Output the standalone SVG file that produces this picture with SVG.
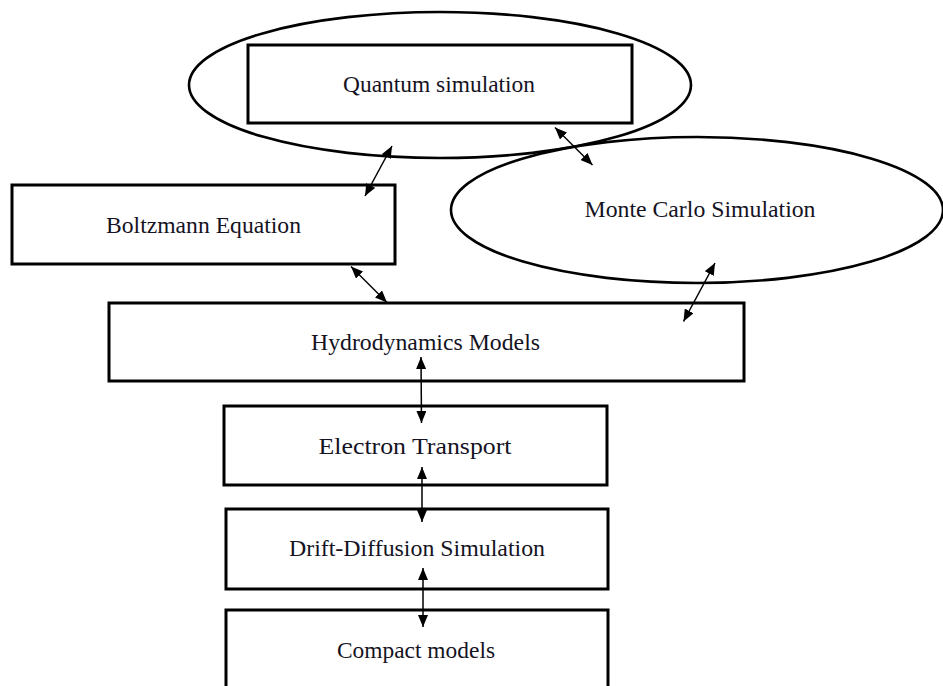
<svg xmlns="http://www.w3.org/2000/svg" width="943" height="686" viewBox="0 0 943 686">
  <style>
    .box { fill: none; stroke: #000; stroke-width: 3; }
    .oval { fill: none; stroke: #000; stroke-width: 2.6; }
    .lbl { font-family: "Liberation Serif", "Times New Roman", serif; font-size: 23.5px; fill: #15131f; text-anchor: middle; }
    .link { stroke: #000; stroke-width: 1.5; fill: none; marker-start: url(#head); marker-end: url(#head); }
  </style>
  <defs>
    <marker id="head" markerUnits="userSpaceOnUse" markerWidth="12" markerHeight="10" refX="12" refY="5" orient="auto-start-reverse">
      <path d="M0,0 L12,5 L0,10 z" fill="#000"/>
    </marker>
  </defs>
  <rect width="943" height="686" fill="#fff"/>

  <g id="quantum">
    <ellipse class="oval" cx="440" cy="85" rx="251" ry="73"/>
    <rect class="box" x="248" y="45" width="384" height="78"/>
    <text class="lbl" x="439" y="92" textLength="192" lengthAdjust="spacingAndGlyphs">Quantum simulation</text>
  </g>

  <g id="monte-carlo">
    <ellipse class="oval" cx="697" cy="210" rx="246" ry="73"/>
    <text class="lbl" x="700" y="217" textLength="231" lengthAdjust="spacingAndGlyphs">Monte Carlo Simulation</text>
  </g>

  <g id="boltzmann">
    <rect class="box" x="12" y="185" width="383" height="79"/>
    <text class="lbl" x="203.5" y="233" textLength="195" lengthAdjust="spacingAndGlyphs">Boltzmann Equation</text>
  </g>

  <g id="hydrodynamics">
    <rect class="box" x="109" y="303" width="635" height="78"/>
    <text class="lbl" x="425.5" y="350" textLength="229" lengthAdjust="spacingAndGlyphs">Hydrodynamics Models</text>
  </g>

  <g id="electron-transport">
    <rect class="box" x="224" y="406" width="383" height="79"/>
    <text class="lbl" x="415" y="454" font-size="25.5" textLength="193" lengthAdjust="spacingAndGlyphs">Electron Transport</text>
  </g>

  <g id="drift-diffusion">
    <rect class="box" x="226" y="509" width="382" height="80"/>
    <text class="lbl" x="417" y="556" textLength="256" lengthAdjust="spacingAndGlyphs">Drift-Diffusion Simulation</text>
  </g>

  <g id="compact">
    <rect class="box" x="226" y="610" width="382" height="90"/>
    <text class="lbl" x="416" y="658" textLength="158" lengthAdjust="spacingAndGlyphs">Compact models</text>
  </g>

  <g id="connectors">
    <line class="link" x1="392" y1="146" x2="365" y2="196"/>
    <line class="link" x1="555" y1="127.5" x2="592.5" y2="165"/>
    <line class="link" x1="351" y1="266.5" x2="387" y2="302.5"/>
    <line class="link" x1="715" y1="263" x2="683.5" y2="321.5"/>
    <line class="link" x1="421" y1="357" x2="421.5" y2="423"/>
    <line class="link" x1="422" y1="467" x2="422" y2="522"/>
    <line class="link" x1="423" y1="568" x2="423" y2="627"/>
  </g>
</svg>
